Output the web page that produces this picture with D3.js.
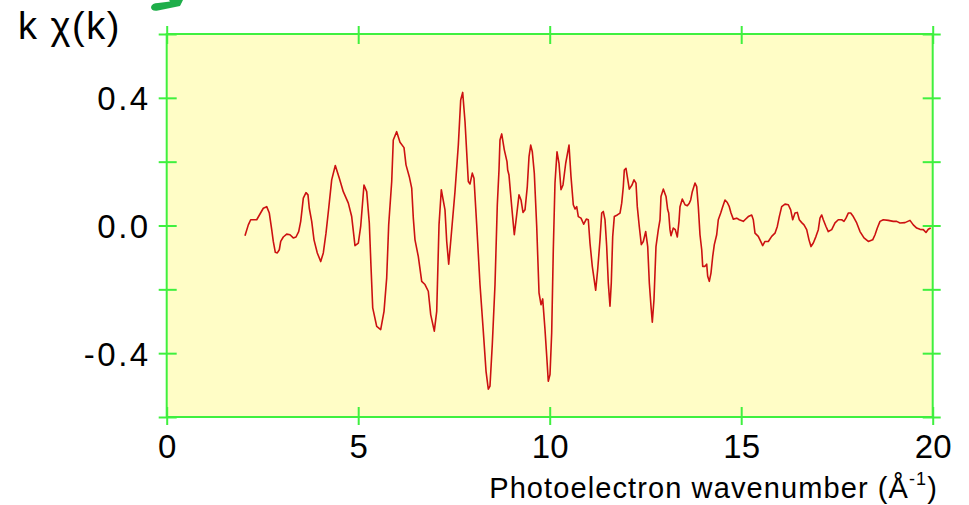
<!DOCTYPE html>
<html>
<head>
<meta charset="utf-8">
<script src="https://cdn.jsdelivr.net/npm/d3@7"></script>
<style>
  html, body { margin: 0; padding: 0; background: #ffffff; }
  svg { display: block; }
  text { font-family: "Liberation Sans", Arial, Helvetica, sans-serif; fill: #000; }
</style>
</head>
<body>
<svg id="chart" width="969" height="505"></svg>
<script>
// ---- data ----
const kValues = [
  2.044, 2.131, 2.193, 2.350, 2.436, 2.522, 2.611, 2.679, 2.742, 2.783, 2.836, 2.888, 2.940, 2.977, 3.044, 3.133, 3.219, 3.305, 3.376, 3.446,
  3.499, 3.533, 3.567, 3.637, 3.689, 3.723, 3.786, 3.846, 3.932, 4.021, 4.089, 4.159, 4.230, 4.308, 4.402, 4.507, 4.611, 4.742, 4.830, 4.916,
  5.003, 5.065, 5.151, 5.222, 5.290, 5.334, 5.379, 5.483, 5.587, 5.674, 5.744, 5.796, 5.875, 5.916, 6.005, 6.091, 6.196, 6.248, 6.334, 6.397,
  6.439, 6.483, 6.569, 6.658, 6.744, 6.830, 6.893, 6.987, 7.050, 7.110, 7.170, 7.266, 7.311, 7.363, 7.423, 7.527, 7.614, 7.676, 7.728, 7.789,
  7.875, 7.919, 7.979, 8.023, 8.094, 8.180, 8.266, 8.337, 8.397, 8.441, 8.501, 8.572, 8.632, 8.676, 8.702, 8.747, 8.815, 8.885, 8.903, 8.937,
  9.008, 9.076, 9.138, 9.198, 9.251, 9.303, 9.355, 9.415, 9.460, 9.504, 9.546, 9.598, 9.661, 9.721, 9.773, 9.817, 9.877, 9.922, 9.963, 10.008,
  10.052, 10.094, 10.138, 10.191, 10.243, 10.295, 10.347, 10.418, 10.504, 10.556, 10.616, 10.661, 10.705, 10.747, 10.817, 10.888, 10.956, 11.008, 11.052, 11.112,
  11.201, 11.253, 11.313, 11.358, 11.399, 11.444, 11.488, 11.530, 11.574, 11.608, 11.645, 11.687, 11.765, 11.836, 11.880, 11.922, 11.948, 11.992, 12.026, 12.078,
  12.149, 12.201, 12.253, 12.287, 12.339, 12.392, 12.444, 12.507, 12.559, 12.601, 12.645, 12.679, 12.723, 12.775, 12.836, 12.880, 12.906, 12.966, 13.037, 13.081,
  13.107, 13.141, 13.167, 13.227, 13.279, 13.332, 13.376, 13.402, 13.462, 13.533, 13.593, 13.645, 13.681, 13.723, 13.794, 13.838, 13.880, 13.924, 13.969, 13.995,
  14.055, 14.099, 14.125, 14.167, 14.211, 14.256, 14.298, 14.360, 14.402, 14.465, 14.517, 14.577, 14.637, 14.689, 14.734, 14.794, 14.883, 14.950, 15.055, 15.099,
  15.185, 15.274, 15.316, 15.360, 15.446, 15.509, 15.561, 15.621, 15.708, 15.796, 15.882, 15.943, 15.995, 16.057, 16.144, 16.230, 16.292, 16.345, 16.405, 16.465,
  16.517, 16.580, 16.640, 16.710, 16.770, 16.822, 16.883, 16.953, 17.013, 17.057, 17.102, 17.144, 17.214, 17.274, 17.363, 17.449, 17.535, 17.624, 17.684, 17.736,
  17.796, 17.859, 17.927, 18.016, 18.102, 18.206, 18.319, 18.433, 18.494, 18.554, 18.624, 18.710, 18.841, 18.971, 19.060, 19.146, 19.277, 19.407, 19.493, 19.582,
  19.668, 19.755, 19.825, 19.885, 19.948
];
const kChiValues = [
  -0.032, 0.002, 0.018, 0.018, 0.036, 0.054, 0.059, 0.039, -0.013, -0.050, -0.084, -0.086, -0.076, -0.050, -0.036, -0.027, -0.029, -0.039, -0.036, -0.019,
  0.013, 0.049, 0.086, 0.103, 0.096, 0.054, 0.013, -0.045, -0.086, -0.113, -0.086, -0.024, 0.054, 0.143, 0.188, 0.148, 0.106, 0.070, 0.028, -0.063,
  -0.055, -0.003, 0.127, 0.106, 0.008, -0.128, -0.258, -0.316, -0.326, -0.269, -0.164, 0.002, 0.138, 0.268, 0.294, 0.261, 0.244, 0.190, 0.153, 0.117,
  0.023, -0.045, -0.097, -0.175, -0.185, -0.206, -0.279, -0.331, -0.269, 0.002, 0.112, 0.049, -0.050, -0.121, -0.039, 0.106, 0.252, 0.393, 0.417, 0.325,
  0.138, 0.130, 0.164, 0.148, 0.002, -0.185, -0.331, -0.456, -0.513, -0.503, -0.373, -0.185, 0.065, 0.174, 0.268, 0.287, 0.237, 0.200, 0.174, 0.158,
  0.059, -0.029, 0.033, 0.096, 0.080, 0.041, 0.049, 0.122, 0.216, 0.252, 0.231, 0.164, -0.003, -0.211, -0.248, -0.230, -0.326, -0.409, -0.488, -0.467,
  -0.336, -0.076, 0.133, 0.231, 0.195, 0.112, 0.127, 0.195, 0.252, 0.153, 0.065, 0.052, 0.059, 0.028, 0.023, 0.004, 0.020, 0.018, -0.055, -0.128,
  -0.203, -0.138, -0.045, 0.039, 0.044, 0.018, -0.066, -0.180, -0.253, -0.180, -0.034, 0.028, 0.033, 0.039, 0.070, 0.122, 0.174, 0.179, 0.153, 0.114,
  0.127, 0.143, 0.133, 0.059, -0.003, -0.060, -0.050, -0.019, -0.066, -0.180, -0.253, -0.303, -0.232, -0.066, -0.013, 0.018, 0.091, 0.114, 0.091, 0.049,
  0.039, -0.013, -0.032, -0.008, -0.013, -0.036, 0.013, 0.059, 0.083, 0.065, 0.062, 0.070, 0.080, 0.106, 0.133, 0.122, 0.059, -0.029, -0.076, -0.128,
  -0.128, -0.121, -0.159, -0.175, -0.149, -0.097, -0.060, -0.029, 0.018, 0.039, 0.059, 0.080, 0.072, 0.059, 0.039, 0.020, 0.023, 0.018, 0.013, 0.018,
  0.028, 0.033, 0.018, -0.024, -0.034, -0.050, -0.063, -0.050, -0.050, -0.034, -0.024, -0.003, 0.028, 0.059, 0.067, 0.065, 0.049, 0.018, 0.039, 0.041,
  0.018, 0.009, 0.002, -0.013, -0.045, -0.066, -0.055, -0.034, -0.013, 0.023, 0.033, 0.018, -0.003, -0.019, -0.013, 0.008, 0.018, 0.018, 0.013, 0.023,
  0.039, 0.039, 0.028, 0.008, -0.019, -0.039, -0.050, -0.045, -0.029, -0.008, 0.013, 0.018, 0.016, 0.013, 0.013, 0.008, 0.009, 0.016, 0.002, -0.008,
  -0.012, -0.013, -0.022, -0.012, -0.008
];
const xTicks = [0, 5, 10, 15, 20];
const yTicks = [-0.6, -0.4, -0.2, 0.0, 0.2, 0.4, 0.6];
const yTickLabels = { "-0.4": "-0.4", "0": "0.0", "0.4": "0.4" };
const xDomain = [0, 20];
const yDomain = [-0.6, 0.6];
const yLabel = "k \u03C7(k)";
const xLabel = "Photoelectron wavenumber (\u00C5";

// ---- layout ----
const svg = d3.select("#chart");
const L = 166.7, R = 932.7, T = 34, B = 417;
const x = d3.scaleLinear().domain(xDomain).range([L, R]);
const y = d3.scaleLinear().domain(yDomain).range([B, T]);
const frameColor = "#3ff03f";

// plot background
svg.append("rect").attr("x", L).attr("y", T).attr("width", R - L).attr("height", B - T)
  .attr("fill", "#fffdc6");

// data line
const data = kValues.map((k, i) => [k, kChiValues[i]]);
svg.append("path").datum(data)
  .attr("fill", "none").attr("stroke", "#cc1111").attr("stroke-width", 1.6)
  .attr("stroke-linejoin", "round")
  .attr("d", d3.line().x(d => x(d[0])).y(d => y(d[1])));

// frame
svg.append("rect").attr("x", L).attr("y", T).attr("width", R - L).attr("height", B - T)
  .attr("fill", "none").attr("stroke", frameColor).attr("stroke-width", 2);

// axes (ticks cross the frame)
function styleAxis(g) {
  g.select(".domain").remove();
  g.selectAll(".tick line").attr("stroke", frameColor).attr("stroke-width", 2);
}
const tin = 10, tout = 8;
// bottom
const gb = svg.append("g").attr("transform", `translate(0,${B})`)
  .call(d3.axisBottom(x).tickValues(xTicks).tickSize(0).tickFormat(d3.format("d")).tickPadding(0));
gb.selectAll(".tick line").attr("y1", -tin).attr("y2", tout);
gb.selectAll(".tick text").attr("y", 41).attr("dy", 0).attr("font-size", 33);
styleAxis(gb);
// top
const gt = svg.append("g").attr("transform", `translate(0,${T})`)
  .call(d3.axisTop(x).tickValues(xTicks).tickSize(0).tickFormat(""));
gt.selectAll(".tick line").attr("y1", -tout).attr("y2", tin);
styleAxis(gt);
// left
const gl = svg.append("g").attr("transform", `translate(${L},0)`)
  .call(d3.axisLeft(y).tickValues(yTicks).tickSize(0)
    .tickFormat(d => yTickLabels[String(+d.toFixed(1))] || ""));
gl.selectAll(".tick line").attr("x1", -tout).attr("x2", tin);
gl.selectAll(".tick text").attr("x", -16).attr("dy", "0.36em").attr("font-size", 33)
  .attr("letter-spacing", 2.5);
styleAxis(gl);
// right
const gr = svg.append("g").attr("transform", `translate(${R},0)`)
  .call(d3.axisRight(y).tickValues(yTicks).tickSize(0).tickFormat(""));
gr.selectAll(".tick line").attr("x1", -tin).attr("x2", tout);
styleAxis(gr);

// axis titles
svg.append("text").attr("x", 18).attr("y", 39).attr("font-size", 38)
  .attr("letter-spacing", 1.5).text(yLabel);
const xt = svg.append("text").attr("x", 938).attr("y", 498).attr("font-size", 29)
  .attr("text-anchor", "end").attr("letter-spacing", 1.1);
xt.append("tspan").text(xLabel);
xt.append("tspan").attr("font-size", 18).attr("dy", -13).text("-1");
xt.append("tspan").attr("dy", 13).text(")");

// green arrow fragment at the top
svg.append("path")
  .attr("d", "M151,7 Q152,3 158,3 L170,1.5 L168,-2 L183,0 L180,6 L158,10.5 Q151,11.5 151,7 Z")
  .attr("fill", "#1fae4a");
</script>
</body>
</html>
